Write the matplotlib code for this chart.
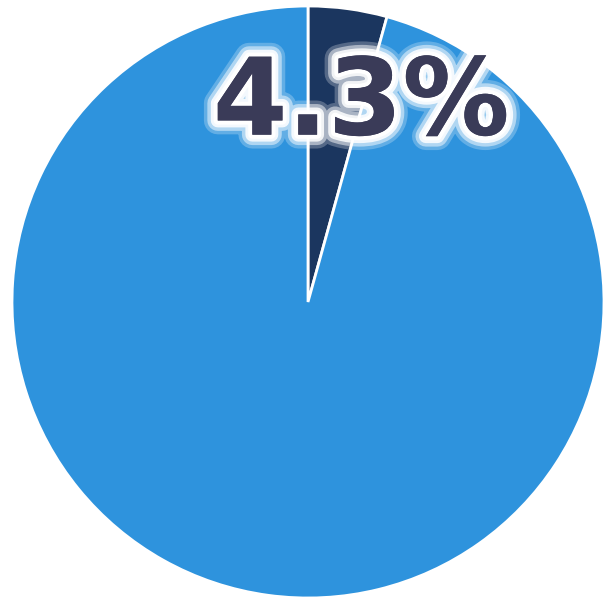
import matplotlib.pyplot as plt
import matplotlib.patheffects as pe

# share of the two slices (percent)
labels = ['share', 'rest']
values = [4.3, 95.7]
colors = ['#1B365F', '#2E93DD']
label_text = '4.3%'

fig = plt.figure(figsize=(6.03, 6.04), dpi=100)
ax = fig.add_axes([12 / 603, 6 / 604, 592 / 603, 592 / 604])

ax.pie(values, colors=colors, startangle=90, counterclock=False,
       radius=1.0, wedgeprops=dict(edgecolor='white', linewidth=2))
ax.set_xlim(-1, 1)
ax.set_ylim(-1, 1)
ax.set_aspect('equal')
ax.axis('off')

# big percentage label with a soft white glow
txt = ax.text(0.18, 0.665, label_text, ha='center', va='center',
              fontsize=77, fontweight='bold', color='#3A3B58')
txt.set_path_effects([
    pe.withStroke(linewidth=20, foreground='white', alpha=0.25),
    pe.withStroke(linewidth=15, foreground='white', alpha=0.5),
    pe.withStroke(linewidth=10, foreground='white', alpha=0.85),
    pe.withStroke(linewidth=6, foreground='white'),
    pe.Normal(),
])

fig.savefig('out.png', dpi=100)
